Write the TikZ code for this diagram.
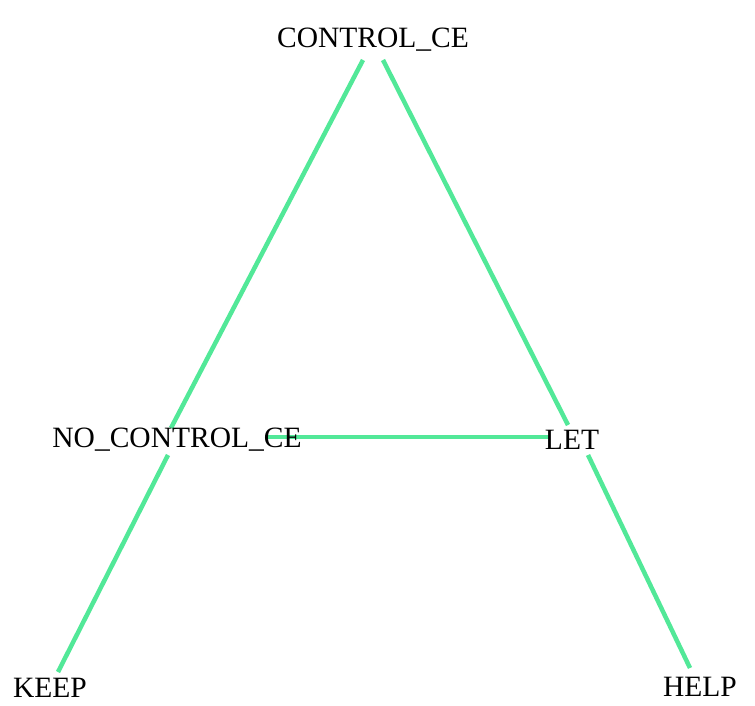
\documentclass[tikz,border=0pt]{standalone}
\usepackage{fontspec}
\setmainfont{Liberation Serif}
\definecolor{edgegreen}{RGB}{82,232,152}
\begin{document}
\begin{tikzpicture}[x=1pt,y=-1pt,
  lbl/.style={font=\fontsize{29.5}{34}\selectfont, inner sep=0pt},
  edge/.style={draw=edgegreen, line width=4.5pt}]
\useasboundingbox (0,0) rectangle (755,706);
\coordinate (c1) at (363,60);
\coordinate (c2) at (383,60);
\coordinate (n1) at (171,428);
\coordinate (n2) at (168,455);
\coordinate (n3) at (265,437);
\coordinate (l1) at (568,425);
\coordinate (l2) at (588,455);
\coordinate (l3) at (550,437);
\coordinate (k1) at (58,672);
\coordinate (h1) at (690,668);
\draw[edge] (c1) -- (n1);
\draw[edge] (n2) -- (k1);
\draw[edge] (c2) -- (l1);
\draw[edge] (l2) -- (h1);
\draw[edge] (n3) -- (l3);
\node[lbl] (ctrl) at (373,40) {CONTROL\_CE};
\node[lbl] (noctrl) at (177,440) {NO\_CONTROL\_CE};
\node[lbl] (let) at (572,440) {LET};
\node[lbl] (keep) at (50,688) {KEEP};
\node[lbl] (help) at (700,687) {HELP};
\end{tikzpicture}
\end{document}
